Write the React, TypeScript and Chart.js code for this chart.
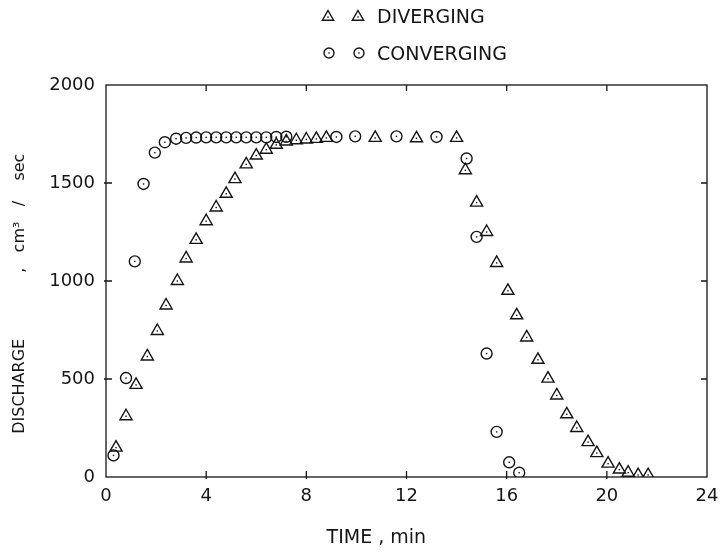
import React, { useEffect, useRef } from 'react';
import { Chart, registerables } from 'chart.js';

Chart.register(...registerables);

// ---- data ----
const divergingTime = [
  0.4, 0.8, 1.2, 1.65, 2.05, 2.4, 2.85, 3.2, 3.6, 4.0, 4.4, 4.8, 5.15, 5.6, 6.0, 6.4, 6.8, 7.2, 7.6, 8.0,
  8.4, 8.8, 10.75, 12.4, 14.0, 14.35, 14.8, 15.2, 15.6, 16.05, 16.4, 16.8, 17.25, 17.65, 18.0, 18.4,
  18.8, 19.25, 19.6, 20.05, 20.5, 20.85, 21.25, 21.65,
];
const divergingDischarge = [
  150, 310, 470, 615, 745, 875, 1000, 1115, 1210, 1305, 1375, 1445, 1520, 1595, 1640, 1670, 1695, 1712,
  1718, 1722, 1725, 1730, 1730, 1728, 1730, 1565, 1400, 1250, 1092, 950, 825, 712, 598, 502, 416, 320,
  250, 178, 122, 68, 38, 22, 10, 10,
];
const convergingTime = [
  0.3, 0.8, 1.15, 1.5, 1.95, 2.35, 2.8, 3.2, 3.6, 4.0, 4.4, 4.8, 5.2, 5.6, 6.0, 6.4, 6.8, 7.2, 9.2, 9.95,
  11.6, 13.2, 14.4, 14.8, 15.2, 15.6, 16.1, 16.5,
];
const convergingDischarge = [
  110, 505, 1100, 1495, 1655, 1708, 1726, 1730, 1732, 1733, 1733, 1733, 1733, 1733, 1733, 1733, 1735,
  1736, 1735, 1738, 1738, 1735, 1625, 1225, 630, 230, 75, 22,
];
const xTickValues = [0, 4, 8, 12, 16, 20, 24];
const yTickValues = [0, 500, 1000, 1500, 2000];
const seriesNames = ['DIVERGING', 'CONVERGING'];
const NB = '\u00a0';
const xTitleText = 'TIME , min' + NB.repeat(10);
const yTitleText =
  'DISCHARGE' + NB.repeat(13) + ',' + NB.repeat(3) + 'cm\u00b3' + NB.repeat(3) + '/' + NB.repeat(4) + 'sec' + NB.repeat(5);

const FONT = '"DejaVu Sans", "Liberation Sans", sans-serif';
const INK = '#151515';

function toPoints(xs: number[], ys: number[]) {
  return xs.map((x, i) => ({ x, y: ys[i] }));
}

const framePlugin = {
  id: 'frameTicks',
  afterDraw(chart: any) {
    const { ctx, chartArea: a, scales } = chart;
    ctx.save();
    ctx.strokeStyle = INK;
    ctx.lineWidth = 1.3;
    ctx.strokeRect(a.left, a.top, a.right - a.left, a.bottom - a.top);
    const tin = 6;
    const tout = 2;
    ctx.beginPath();
    scales.x.ticks.forEach((t: any) => {
      const px = scales.x.getPixelForValue(t.value);
      if (px <= a.left + 1 || px >= a.right - 1) return;
      ctx.moveTo(px, a.bottom + tout);
      ctx.lineTo(px, a.bottom - tin);
      ctx.moveTo(px, a.top);
      ctx.lineTo(px, a.top + tin);
    });
    scales.y.ticks.forEach((t: any) => {
      const py = scales.y.getPixelForValue(t.value);
      if (py <= a.top + 1 || py >= a.bottom - 1) return;
      ctx.moveTo(a.left - tout, py);
      ctx.lineTo(a.left + tin, py);
      ctx.moveTo(a.right, py);
      ctx.lineTo(a.right - tin, py);
    });
    ctx.stroke();
    ctx.restore();
  },
};

const centerDotPlugin = {
  id: 'centerDots',
  afterDatasetsDraw(chart: any) {
    const { ctx } = chart;
    ctx.save();
    ctx.fillStyle = INK;
    chart.data.datasets.forEach((_: any, i: number) => {
      const meta = chart.getDatasetMeta(i);
      meta.data.forEach((el: any) => {
        ctx.fillRect(el.x - 0.7, el.y - 0.7, 1.4, 1.4);
      });
    });
    ctx.restore();
  },
};

function drawTriangle(ctx: CanvasRenderingContext2D, x: number, y: number, r: number) {
  ctx.beginPath();
  for (let k = 0; k < 3; k++) {
    const ang = (k * 2 * Math.PI) / 3;
    const px = x + Math.sin(ang) * r;
    const py = y - Math.cos(ang) * r;
    if (k === 0) ctx.moveTo(px, py);
    else ctx.lineTo(px, py);
  }
  ctx.closePath();
  ctx.stroke();
}

const legendPlugin = {
  id: 'doubleMarkerLegend',
  afterDraw(chart: any) {
    const { ctx } = chart;
    ctx.save();
    ctx.strokeStyle = INK;
    ctx.fillStyle = INK;
    ctx.lineWidth = 1.4;
    drawTriangle(ctx, 328, 17, 6.5);
    drawTriangle(ctx, 358, 17, 6.5);
    ctx.beginPath();
    ctx.arc(329, 53, 5, 0, Math.PI * 2);
    ctx.stroke();
    ctx.beginPath();
    ctx.arc(359, 53, 5, 0, Math.PI * 2);
    ctx.stroke();
    [
      [328, 17],
      [358, 17],
      [329, 53],
      [359, 53],
    ].forEach(([x, y]) => ctx.fillRect(x - 0.7, y - 0.7, 1.4, 1.4));
    ctx.font = `19px ${FONT}`;
    ctx.textBaseline = 'alphabetic';
    ctx.textAlign = 'left';
    ctx.fillText(seriesNames[0], 377, 23);
    ctx.fillText(seriesNames[1], 377, 60);
    ctx.restore();
  },
};

export default function App() {
  const canvasRef = useRef<HTMLCanvasElement | null>(null);

  useEffect(() => {
    if (!canvasRef.current) return;
    const chart = new Chart(canvasRef.current, {
      type: 'scatter',
      data: {
        datasets: [
          {
            label: seriesNames[0],
            data: toPoints(divergingTime, divergingDischarge),
            pointStyle: 'triangle',
            pointRadius: 7,
            pointHoverRadius: 7,
            pointBorderWidth: 1.4,
            borderColor: INK,
            backgroundColor: 'rgba(0,0,0,0)',
          },
          {
            label: seriesNames[1],
            data: toPoints(convergingTime, convergingDischarge),
            pointStyle: 'circle',
            pointRadius: 5.5,
            pointHoverRadius: 5.5,
            pointBorderWidth: 1.4,
            borderColor: INK,
            backgroundColor: 'rgba(0,0,0,0)',
          },
        ],
      },
      options: {
        animation: false,
        responsive: true,
        maintainAspectRatio: false,
        layout: { padding: { top: 85, right: 13, left: 0, bottom: 0 } },
        plugins: {
          legend: { display: false },
          tooltip: { enabled: false },
        },
        scales: {
          x: {
            type: 'linear',
            min: 0,
            max: 24,
            afterBuildTicks: (s: any) => {
              s.ticks = xTickValues.map((v) => ({ value: v }));
            },
            afterFit: (s: any) => {
              s.height = 75;
              s.paddingRight = 13;
              s.paddingLeft = 0;
            },
            grid: { display: false, drawTicks: false },
            border: { display: false },
            ticks: {
              font: { family: FONT, size: 18 },
              color: INK,
              padding: 9,
              maxRotation: 0,
              autoSkip: false,
              callback: (v: any) => String(v),
            },
            title: {
              display: true,
              text: xTitleText,
              font: { family: FONT, size: 19 },
              color: INK,
              padding: { top: 0, bottom: 3 },
            },
          },
          y: {
            type: 'linear',
            min: 0,
            max: 2000,
            afterBuildTicks: (s: any) => {
              s.ticks = yTickValues.map((v) => ({ value: v }));
            },
            afterFit: (s: any) => {
              s.width = 106;
            },
            grid: { display: false, drawTicks: false },
            border: { display: false },
            ticks: {
              font: { family: FONT, size: 18 },
              color: INK,
              padding: 11,
              autoSkip: false,
              callback: (v: any) => String(v),
            },
            title: {
              display: true,
              text: yTitleText,
              font: { family: FONT, size: 16 },
              color: INK,
              padding: { top: 10, bottom: 0 },
            },
          },
        },
      },
      plugins: [framePlugin, centerDotPlugin, legendPlugin],
    });
    return () => chart.destroy();
  }, []);

  return (
    <div style={{ position: 'absolute', left: 0, top: 0, width: 720, height: 552, background: '#fff' }}>
      <canvas ref={canvasRef} />
    </div>
  );
}
